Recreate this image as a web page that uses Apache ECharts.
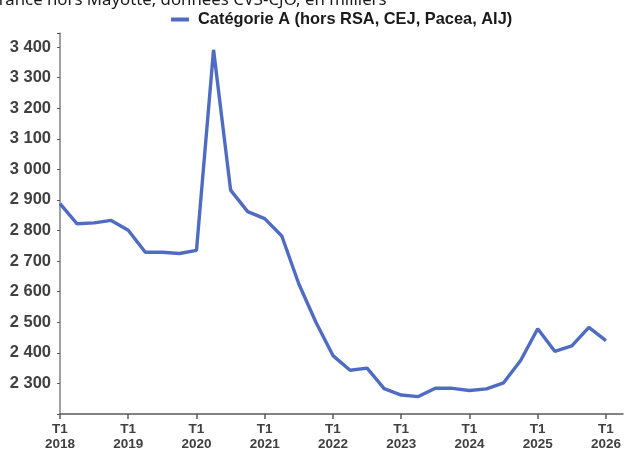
<!DOCTYPE html>
<html>
<head>
<meta charset="utf-8">
<script src="https://cdn.jsdelivr.net/npm/echarts@6/dist/echarts.min.js"></script>
<style>
html,body{margin:0;padding:0;background:#fff;overflow:hidden;}
#chart{width:626px;height:452px;}
</style>
</head>
<body>
<div id="chart"></div>
<script>
const seriesName = "Catégorie A (hors RSA, CEJ, Pacea, AIJ)";
const titleText = "France hors Mayotte, données CVS-CJO, en milliers";
const years = [2018, 2019, 2020, 2021, 2022, 2023, 2024, 2025, 2026];
const quarters = ["T1", "T2", "T3", "T4"];
const categories = [];
years.forEach(y => quarters.forEach(q => categories.push(q + " " + y)));
categories.length = 34;
const values = [
  2888, 2822, 2825, 2833, 2801, 2729, 2729, 2725,
  2735, 3391, 2932, 2862, 2839, 2782, 2625, 2500,
  2391, 2343, 2350, 2283, 2262, 2257, 2284, 2284,
  2277, 2282, 2302, 2375, 2479, 2405, 2423, 2483,
  2440, null
];

const chart = echarts.init(document.getElementById('chart'));
chart.setOption({
  animation: false,
  backgroundColor: '#fff',
  graphic: [{
    type: 'text',
    left: -10,
    top: -8.5,
    style: {
      text: titleText,
      font: '16.8px "Noto Sans"',
      fill: '#1a1a1a'
    }
  }],
  legend: {
    left: 171,
    top: 11.5,
    padding: 0,
    icon: 'rect',
    itemWidth: 18,
    itemHeight: 4,
    textStyle: {
      fontFamily: 'Liberation Sans',
      fontWeight: 'bold',
      fontSize: 16.4,
      color: '#1a1a1a',
      padding: [0, 0, 0, 4]
    },
    data: [seriesName]
  },
  grid: {
    left: 60,
    right: 1,
    top: 33.3,
    bottom: 35.3,
    containLabel: false
  },
  xAxis: {
    type: 'category',
    data: categories,
    boundaryGap: false,
    axisLine: { lineStyle: { color: '#595959', width: 1.5 } },
    axisTick: {
      interval: function (i) { return i % 4 === 0; },
      length: 5,
      lineStyle: { color: '#595959', width: 1.5 }
    },
    axisLabel: {
      interval: 0,
      margin: 8,
      fontFamily: 'Liberation Sans',
      fontWeight: 'bold',
      fontSize: 13.5,
      lineHeight: 15,
      color: '#404040',
      formatter: function (v, i) {
        if (i % 4 !== 0) return '';
        const p = v.split(' ');
        return p[0] + '\n' + p[1];
      }
    },
    splitLine: { show: false }
  },
  yAxis: {
    type: 'value',
    min: 2200,
    max: 3445,
    interval: 100,
    axisLine: { show: true, lineStyle: { color: '#808080', width: 1.5 } },
    axisTick: { show: true, length: 3, lineStyle: { color: '#595959' } },
    axisLabel: {
      margin: 9,
      fontFamily: 'Liberation Sans',
      fontWeight: 'bold',
      fontSize: 16.5,
      color: '#404040',
      formatter: function (v) {
        if (v <= 2200 || v % 100 !== 0) return '';
        const s = String(v);
        return s.slice(0, s.length - 3) + ' ' + s.slice(-3);
      }
    },
    splitLine: { show: false }
  },
  series: [{
    name: seriesName,
    type: 'line',
    data: values,
    symbol: 'none',
    color: '#4f6cc2',
    lineStyle: { width: 3.4, color: '#4f6cc2' }
  }]
});
</script>
</body>
</html>
